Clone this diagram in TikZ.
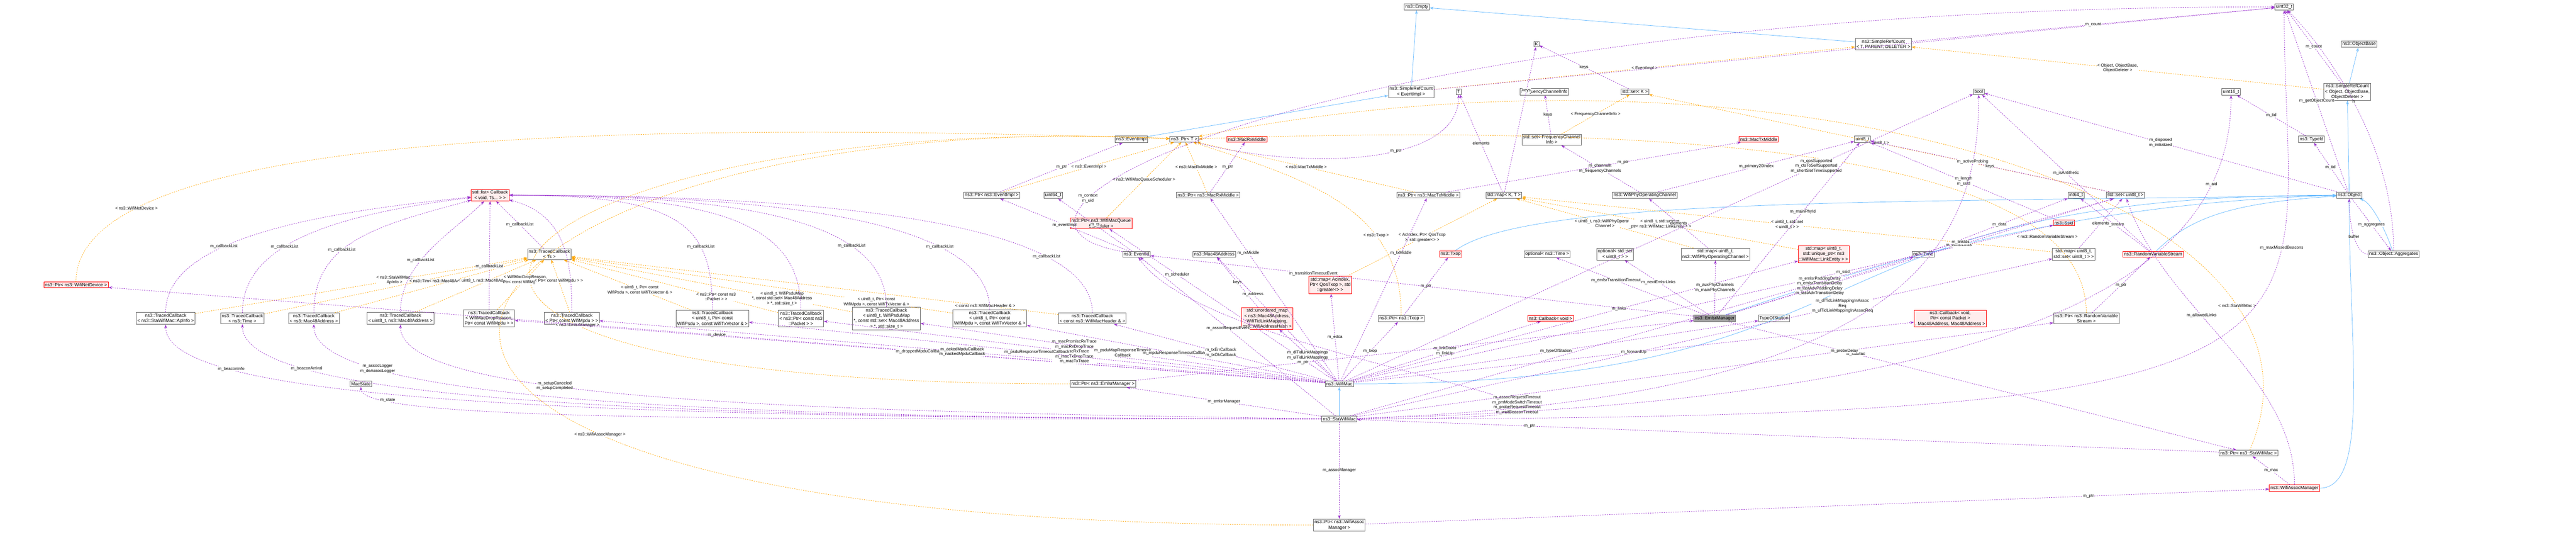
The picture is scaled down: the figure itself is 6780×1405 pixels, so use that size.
\documentclass[tikz,border=0pt]{standalone}
\usepackage{fontspec}
\setmainfont{Liberation Sans}
\usetikzlibrary{arrows.meta}
\definecolor{usecol}{HTML}{9A32CD}
\definecolor{tplcol}{HTML}{FFA500}
\definecolor{inhcol}{HTML}{63B8FF}
\tikzset{
  cls/.style={draw=gray!80!black,line width=1.2pt,fill=white,inner sep=3pt,align=center,font=\fontsize{12}{14}\selectfont},
  redcls/.style={cls,draw=red,fill=red!7},
  curcls/.style={cls,fill=gray!75},
  use/.style={usecol,dashed,line width=1pt,-{Stealth[length=10pt,width=7pt]}},
  tmpl/.style={tplcol,dashed,line width=1pt,-{Stealth[length=10pt,width=7pt]}},
  inh/.style={inhcol,line width=1pt,-{Stealth[length=10pt,width=7pt,open]}},
  lbl/.style={font=\fontsize{11}{13}\selectfont,align=center,text=black,fill=white,inner sep=1pt}
}
\begin{document}
\begin{tikzpicture}[x=1pt,y=-1pt]
\useasboundingbox (0,0) rectangle (6780,1405);

% top rows
\node[cls] (empty) at (3729,18) {ns3::Empty};
\node[cls] (u32) at (6012,18) {uint32\_t};
\node[cls] (K) at (4044,116) {K};
\node[cls] (srctpd) at (4957,116) {ns3::SimpleRefCount\\< T, PARENT, DELETER >};
\node[cls] (objbase) at (6209,116) {ns3::ObjectBase};
\node[cls] (srcev) at (3714,241) {ns3::SimpleRefCount\\< EventImpl >};
\node[cls] (T) at (3839,241) {T};
\node[cls] (fci) at (4065,241) {FrequencyChannelInfo};
\node[cls] (setk) at (4303,241) {std::set< K >};
\node[cls] (bool) at (5208,241) {bool};
\node[cls] (u16) at (5872,241) {uint16\_t};
\node[cls] (srcobj) at (6178,241) {ns3::SimpleRefCount\\< Object, ObjectBase,\\ ObjectDeleter >};
\node[cls] (evimpl) at (2978,366) {ns3::EventImpl};
\node[cls] (ptrt) at (3117,366) {ns3::Ptr< T >};
\node[redcls] (rxmid) at (3282,366) {ns3::MacRxMiddle};
\node[cls] (setfci) at (4084,367) {std::set< FrequencyChannel\\ Info >};
\node[redcls] (txmid) at (4629,366) {ns3::MacTxMiddle};
\node[cls] (u8) at (4902,366) {uint8\_t};
\node[cls] (typeid) at (6084,366) {ns3::TypeId};

% middle rows
\node[redcls] (list) at (1290,513) {std::list< Callback\\< void, Ts... > >};
\node[cls] (pevimpl) at (2610,513) {ns3::Ptr< ns3::EventImpl >};
\node[cls] (u64) at (2772,513) {uint64\_t};
\node[cls] (prxmid) at (3180,513) {ns3::Ptr< ns3::MacRxMiddle >};
\node[cls] (ptxmid) at (3759,513) {ns3::Ptr< ns3::MacTxMiddle >};
\node[cls] (mapkt) at (3958,513) {std::map< K, T >};
\node[cls] (wpoc) at (4329,513) {ns3::WifiPhyOperatingChannel};
\node[cls] (i64) at (5464,513) {int64\_t};
\node[cls] (setu8) at (5594,513) {std::set< uint8\_t >};
\node[cls] (object) at (6183,513) {ns3::Object};
\node[redcls] (psched) at (2898,587) {ns3::Ptr< ns3::WifiMacQueue\\ Scheduler >};
\node[redcls] (ssid) at (5432,586) {ns3::Ssid};
\node[cls] (tcts) at (1446,668) {ns3::TracedCallback\\< Ts >};
\node[cls] (evid) at (2991,668) {ns3::EventId};
\node[cls] (mac48) at (3196,668) {ns3::Mac48Address};
\node[redcls] (txop) at (3818,668) {ns3::Txop};
\node[cls] (optt) at (4072,668) {optional< ns3::Time >};
\node[cls] (optset) at (4251,668) {optional< std::set\\ < uint8\_t > >};
\node[cls] (mapoc) at (4515,668) {std::map< uint8\_t,\\ ns3::WifiPhyOperatingChannel >};
\node[redcls] (mapul) at (4800,668) {std::map< uint8\_t,\\ std::unique\_ptr< ns3\\ ::WifiMac::LinkEntity > >};
\node[cls] (time) at (5062,668) {ns3::Time};
\node[cls] (mapu8set) at (5458,668) {std::map< uint8\_t,\\ std::set< uint8\_t > >};
\node[redcls] (rvs) at (5667,668) {ns3::RandomVariableStream};
\node[cls] (aggr) at (6300,668) {ns3::Object::Aggregates};
\node[redcls] (pwnd) at (200,749) {ns3::Ptr< ns3::WifiNetDevice >};
\node[redcls] (mapac) at (3501,749) {std::map< AcIndex,\\ Ptr< QosTxop >, std\\ ::greater<> >};

% traced callbacks row
\node[cls] (tcap) at (436,837) {ns3::TracedCallback\\< ns3::StaWifiMac::ApInfo >};
\node[cls] (tctime) at (638,837) {ns3::TracedCallback\\< ns3::Time >};
\node[cls] (tcmac) at (826,837) {ns3::TracedCallback\\< ns3::Mac48Address >};
\node[cls] (tcu8mac) at (1054,837) {ns3::TracedCallback\\< uint8\_t, ns3::Mac48Address >};
\node[cls] (tcdrop) at (1287,837) {ns3::TracedCallback\\< WifiMacDropReason,\\ Ptr< const WifiMpdu > >};
\node[cls] (tcmpdu) at (1505,837) {ns3::TracedCallback\\< Ptr< const WifiMpdu > >};
\node[cls] (tcpsdu) at (1875,837) {ns3::TracedCallback\\< uint8\_t, Ptr< const\\ WifiPsdu >, const WifiTxVector \& >};
\node[cls] (tcpkt) at (2108,837) {ns3::TracedCallback\\< ns3::Ptr< const ns3\\ ::Packet > >};
\node[cls] (tcmap) at (2333,837) {ns3::TracedCallback\\< uint8\_t, WifiPsduMap\\ *, const std::set< Mac48Address\\ > *, std::size\_t >};
\node[cls] (tcmpdutx) at (2605,837) {ns3::TracedCallback\\< uint8\_t, Ptr< const\\ WifiMpdu >, const WifiTxVector \& >};
\node[cls] (tchdr) at (2875,837) {ns3::TracedCallback\\< const ns3::WifiMacHeader \& >};
\node[redcls] (umap) at (3335,837) {std::unordered\_map\\< ns3::Mac48Address,\\ WifiTidLinkMapping,\\ ns3::WifiAddressHash >};
\node[cls] (ptxop) at (3688,837) {ns3::Ptr< ns3::Txop >};
\node[redcls] (cbvoid) at (4081,837) {ns3::Callback< void >};
\node[curcls] (emlsr) at (4513,837) {ns3::EmlsrManager};
\node[cls] (tos) at (4669,837) {TypeOfStation};
\node[redcls] (cbfwd) at (5133,837) {ns3::Callback< void,\\ Ptr< const Packet >\\ , Mac48Address, Mac48Address >};
\node[cls] (prvs) at (5491,837) {ns3::Ptr< ns3::RandomVariable\\ Stream >};

% bottom rows
\node[cls] (macstate) at (950,1009) {MacState};
\node[cls] (pemlsr) at (2903,1009) {ns3::Ptr< ns3::EmlsrManager >};
\node[cls] (wifimac) at (3525,1009) {ns3::WifiMac};
\node[cls] (stamac) at (3525,1101) {ns3::StaWifiMac};
\node[cls] (pstamac) at (5918,1191) {ns3::Ptr< ns3::StaWifiMac >};
\node[redcls] (assoc) at (6039,1283) {ns3::WifiAssocManager};
\node[cls] (passoc) at (3525,1380) {ns3::Ptr< ns3::WifiAssoc\\ Manager >};

% inheritance
\draw[inh] (srcev) -- (empty);
\draw[inh] (srctpd) -- (empty);
\draw[inh] (evimpl) -- (srcev);
\draw[inh] (srcobj) -- (objbase);
\draw[inh] (object) -- (srcobj);
\draw[inh] (aggr) .. controls +(-20,-60) and +(60,20) .. (object);
\draw[inh] (wifimac) .. controls +(1500,0) and +(-1500,0) .. (object);
\draw[inh] (stamac) -- (wifimac);
\draw[inh] (txop) .. controls +(200,-150) and +(-1200,20) .. (object);
\draw[inh] (emlsr) .. controls +(300,-100) and +(-800,20) .. (object);
\draw[inh] (rvs) .. controls +(100,-100) and +(-300,20) .. (object);
\draw[inh] (assoc) .. controls +(200,0) and +(0,400) .. (object);

% templates
\draw[tmpl] (srcev) -- node[lbl]{< EventImpl >} (srctpd);
\draw[tmpl] (srcobj) -- node[lbl]{< Object, ObjectBase,\\ ObjectDeleter >} (srctpd);
\draw[tmpl] (setfci) -- node[lbl]{< FrequencyChannelInfo >} (setk);
\draw[tmpl] (setu8) -- node[lbl]{< uint8\_t >} (setk);
\draw[tmpl] (pevimpl) -- node[lbl]{< ns3::EventImpl >} (ptrt);
\draw[tmpl] (psched) -- node[lbl]{< ns3::WifiMacQueueScheduler >} (ptrt);
\draw[tmpl] (prxmid) -- node[lbl]{< ns3::MacRxMiddle >} (ptrt);
\draw[tmpl] (ptxmid) -- node[lbl]{< ns3::MacTxMiddle >} (ptrt);
\draw[tmpl] (ptxop) .. controls +(0,-300) and +(300,100) .. node[lbl,pos=0.3]{< ns3::Txop >} (ptrt);
\draw[tmpl] (pwnd) .. controls +(0,-400) and +(-1500,-50) .. node[lbl,pos=0.2]{< ns3::WifiNetDevice >} (ptrt);
\draw[tmpl] (pemlsr) .. controls +(-2400,0) and +(-1800,-80) .. node[lbl,pos=0.3]{< ns3::EmlsrManager >} (ptrt);
\draw[tmpl] (passoc) .. controls +(-3300,0) and +(-2000,-100) .. node[lbl,pos=0.3]{< ns3::WifiAssocManager >} (ptrt);
\draw[tmpl] (pstamac) .. controls +(300,-700) and +(1500,-300) .. node[lbl,pos=0.2]{< ns3::StaWifiMac >} (ptrt);
\draw[tmpl] (prvs) .. controls +(0,-400) and +(1500,-50) .. node[lbl,pos=0.2]{< ns3::RandomVariableStream >} (ptrt);
\draw[tmpl] (mapac) -- node[lbl]{< AcIndex, Ptr< QosTxop\\ >, std::greater<> >} (mapkt);
\draw[tmpl] (mapoc) -- node[lbl]{< uint8\_t, ns3::WifiPhyOperating\\ Channel >} (mapkt);
\draw[tmpl] (mapul) -- node[lbl]{< uint8\_t, std::unique\\ \_ptr< ns3::WifiMac::LinkEntity > >} (mapkt);
\draw[tmpl] (mapu8set) -- node[lbl]{< uint8\_t, std::set\\ < uint8\_t > >} (mapkt);
\draw[tmpl] (tcap) -- node[lbl,pos=0.6]{< ns3::StaWifiMac::\\ ApInfo >} (tcts);
\draw[tmpl] (tctime) -- node[lbl,pos=0.6]{< ns3::Time >} (tcts);
\draw[tmpl] (tcmac) -- node[lbl,pos=0.6]{< ns3::Mac48Address >} (tcts);
\draw[tmpl] (tcu8mac) -- node[lbl,pos=0.6]{< uint8\_t, ns3::Mac48Address >} (tcts);
\draw[tmpl] (tcdrop) -- node[lbl,pos=0.6]{< WifiMacDropReason,\\ Ptr< const WifiMpdu > >} (tcts);
\draw[tmpl] (tcmpdu) -- node[lbl,pos=0.6]{< Ptr< const WifiMpdu > >} (tcts);
\draw[tmpl] (tcpsdu) -- node[lbl,pos=0.4]{< uint8\_t, Ptr< const\\ WifiPsdu >, const WifiTxVector \& >} (tcts);
\draw[tmpl] (tcpkt) -- node[lbl,pos=0.3]{< ns3::Ptr< const ns3\\ ::Packet > >} (tcts);
\draw[tmpl] (tcmap) -- node[lbl,pos=0.25]{< uint8\_t, WifiPsduMap\\ *, const std::set< Mac48Address\\ > *, std::size\_t >} (tcts);
\draw[tmpl] (tcmpdutx) -- node[lbl,pos=0.2]{< uint8\_t, Ptr< const\\ WifiMpdu >, const WifiTxVector \& >} (tcts);
\draw[tmpl] (tchdr) -- node[lbl,pos=0.15]{< const ns3::WifiMacHeader \& >} (tcts);

% usage
\draw[use] (srcev) -- (u32);
\draw[use] (srctpd) -- node[lbl]{m\_count} (u32);
\draw[use] (srcobj) -- node[lbl]{m\_count} (u32);
\draw[use] (object) -- node[lbl]{m\_getObjectCount} (u32);
\draw[use] (aggr) .. controls +(0,-300) and +(100,100) .. node[lbl]{n} (u32);
\draw[use] (object) -- node[lbl]{m\_tid} (typeid);
\draw[use] (typeid) -- node[lbl]{m\_tid} (u16);
\draw[use] (object) -- node[lbl]{m\_disposed\\ m\_initialized} (bool);
\draw[use] (object) -- node[lbl]{m\_aggregates} (aggr);
\draw[use] (aggr) .. controls +(-100,0) and +(0,80) .. node[lbl]{buffer} (object);
\draw[use] (setk) -- node[lbl]{keys} (K);
\draw[use] (mapkt) -- node[lbl,pos=0.7]{keys} (K);
\draw[use] (mapkt) -- node[lbl]{elements} (T);
\draw[use] (ptrt) .. controls +(300,80) and +(0,200) .. node[lbl,pos=0.6]{m\_ptr} (T);
\draw[use] (setfci) -- node[lbl]{keys} (fci);
\draw[use] (setu8) -- node[lbl]{keys} (u8);
\draw[use] (wpoc) -- node[lbl]{m\_channelIt\\ m\_frequencyChannels} (setfci);
\draw[use] (wpoc) -- node[lbl]{m\_primary20Index} (u8);
\draw[use] (pevimpl) -- node[lbl]{m\_ptr} (evimpl);
\draw[use] (prxmid) -- node[lbl]{m\_ptr} (rxmid);
\draw[use] (ptxmid) -- node[lbl,pos=0.6]{m\_ptr} (txmid);
\draw[use] (evid) -- node[lbl]{m\_eventImpl} (pevimpl);
\draw[use] (evid) -- node[lbl]{m\_ts} (u64);
\draw[use] (evid) .. controls +(-550,-100) and +(-2500,0) .. node[lbl,pos=0.25]{m\_context\\ m\_uid} (u32);
\draw[use] (time) -- node[lbl]{m\_data} (i64);
\draw[use] (ssid) -- node[lbl]{m\_length\\ m\_ssid} (u8);
\draw[use] (rvs) -- node[lbl]{m\_stream} (i64);
\draw[use] (rvs) -- node[lbl]{m\_isAntithetic} (bool);
\draw[use] (mapu8set) -- node[lbl]{elements} (setu8);
\draw[use] (mapoc) -- node[lbl]{elements} (wpoc);
\draw[use] (umap) -- node[lbl]{keys} (mac48);
\draw[use] (ptxop) -- node[lbl]{m\_ptr} (txop);
\draw[use] (prvs) -- node[lbl]{m\_ptr} (rvs);
\draw[use] (tcap) .. controls +(0,-200) and +(-500,50) .. node[lbl,pos=0.4]{m\_callbackList} (list);
\draw[use] (tctime) .. controls +(0,-200) and +(-400,50) .. node[lbl,pos=0.4]{m\_callbackList} (list);
\draw[use] (tcmac) .. controls +(0,-200) and +(-300,80) .. node[lbl,pos=0.4]{m\_callbackList} (list);
\draw[use] (tcu8mac) .. controls +(0,-150) and +(-100,100) .. node[lbl,pos=0.4]{m\_callbackList} (list);
\draw[use] (tcdrop) -- node[lbl,pos=0.4]{m\_callbackList} (list);
\draw[use] (tcts) -- node[lbl]{m\_callbackList} (list);
\draw[use] (tcmpdu) .. controls +(0,-150) and +(200,50) .. (list);
\draw[use] (tcpsdu) .. controls +(0,-250) and +(500,0) .. node[lbl,pos=0.3]{m\_callbackList} (list);
\draw[use] (tcpkt) .. controls +(0,-250) and +(600,0) .. (list);
\draw[use] (tcmap) .. controls +(0,-250) and +(700,0) .. node[lbl,pos=0.3]{m\_callbackList} (list);
\draw[use] (tcmpdutx) .. controls +(0,-250) and +(800,0) .. node[lbl,pos=0.3]{m\_callbackList} (list);
\draw[use] (tchdr) .. controls +(0,-250) and +(900,0) .. node[lbl,pos=0.25]{m\_callbackList} (list);

% wifi mac members
\draw[use] (wifimac) -- node[lbl]{m\_device} (pwnd);
\draw[use] (wifimac) -- node[lbl]{m\_droppedMpduCallback} (tcdrop);
\draw[use] (wifimac) -- node[lbl]{m\_ackedMpduCallback\\ m\_nackedMpduCallback} (tcmpdu);
\draw[use] (wifimac) -- node[lbl]{m\_macPromiscRxTrace\\ m\_macRxDropTrace\\ m\_macRxTrace\\ m\_macTxDropTrace\\ m\_macTxTrace} (tcpkt);
\draw[use] (wifimac) -- node[lbl]{m\_psduMapResponseTimeout\\ Callback} (tcmap);
\draw[use] (wifimac) -- node[lbl]{m\_psduResponseTimeoutCallback} (tcpsdu);
\draw[use] (wifimac) -- node[lbl]{m\_mpduResponseTimeoutCallback} (tcmpdutx);
\draw[use] (wifimac) -- node[lbl]{m\_txErrCallback\\ m\_txOkCallback} (tchdr);
\draw[use] (wifimac) -- node[lbl,pos=0.7]{m\_scheduler} (psched);
\draw[use] (wifimac) -- node[lbl,pos=0.7]{m\_address} (mac48);
\draw[use] (wifimac) -- node[lbl]{m\_dlTidLinkMappings\\ m\_ulTidLinkMappings} (umap);
\draw[use] (wifimac) -- node[lbl]{m\_edca} (mapac);
\draw[use] (wifimac) -- node[lbl]{m\_txop} (ptxop);
\draw[use] (wifimac) -- node[lbl,pos=0.7]{m\_rxMiddle} (prxmid);
\draw[use] (wifimac) -- node[lbl,pos=0.7]{m\_txMiddle} (ptxmid);
\draw[use] (wifimac) -- node[lbl]{m\_linkDown\\ m\_linkUp} (cbvoid);
\draw[use] (wifimac) -- node[lbl]{m\_typeOfStation} (tos);
\draw[use] (wifimac) -- node[lbl,pos=0.6]{m\_links} (mapul);
\draw[use] (wifimac) -- node[lbl]{m\_forwardUp} (cbfwd);
\draw[use] (wifimac) -- node[lbl,pos=0.7]{m\_ssid} (ssid);
\draw[use] (wifimac) -- node[lbl,pos=0.75]{m\_qosSupported\\ m\_ctsToSelfSupported\\ m\_shortSlotTimeSupported} (bool);

% emlsr manager members
\draw[use] (pemlsr) -- node[lbl,pos=0.3]{m\_ptr} (emlsr);
\draw[use] (emlsr) -- node[lbl]{m\_auxPhyChannels\\ m\_mainPhyChannels} (mapoc);
\draw[use] (emlsr) -- node[lbl]{m\_emlsrPaddingDelay\\ m\_emlsrTransitionDelay\\ m\_lastAdvPaddingDelay\\ m\_lastAdvTransitionDelay} (time);
\draw[use] (emlsr) -- node[lbl,pos=0.6]{m\_emlsrLinks} (setu8);
\draw[use] (emlsr) -- node[lbl,pos=0.6]{m\_mainPhyId} (u8);
\draw[use] (emlsr) -- node[lbl,pos=0.7]{m\_transitionTimeoutEvent} (evid);
\draw[use] (emlsr) -- node[lbl,pos=0.6]{m\_nextEmlsrLinks} (optset);
\draw[use] (emlsr) -- node[lbl,pos=0.6]{m\_emlsrTransitionTimeout} (optt);
\draw[use] (emlsr) -- node[lbl,pos=0.25]{m\_staMac} (pstamac);

% sta wifi mac members
\draw[use] (stamac) -- node[lbl]{m\_emlsrManager} (pemlsr);
\draw[use] (stamac) -- node[lbl]{m\_assocManager} (passoc);
\draw[use] (stamac) .. controls +(-1500,0) and +(0,100) .. node[lbl,pos=0.85]{m\_state} (macstate);
\draw[use] (stamac) .. controls +(-2200,0) and +(0,200) .. node[lbl,pos=0.75]{m\_beaconInfo} (tcap);
\draw[use] (stamac) .. controls +(-2000,0) and +(0,200) .. node[lbl,pos=0.75]{m\_beaconArrival} (tctime);
\draw[use] (stamac) .. controls +(-1800,0) and +(0,200) .. node[lbl,pos=0.75]{m\_assocLogger\\ m\_deAssocLogger} (tcmac);
\draw[use] (stamac) .. controls +(-1600,-20) and +(0,200) .. node[lbl,pos=0.6]{m\_setupCanceled\\ m\_setupCompleted} (tcu8mac);
\draw[use] (stamac) -- node[lbl,pos=0.55]{m\_assocRequestEvent} (evid);
\draw[use] (stamac) .. controls +(1200,0) and +(200,300) .. node[lbl,pos=0.3]{m\_assocRequestTimeout\\ m\_pmModeSwitchTimeout\\ m\_probeRequestTimeout\\ m\_waitBeaconTimeout} (evid);
\draw[use] (stamac) -- node[lbl,pos=0.7]{m\_probeDelay} (prvs);
\draw[use] (stamac) -- node[lbl,pos=0.7]{m\_dlTidLinkMappingInAssoc\\ Req\\ m\_ulTidLinkMappingInAssocReq} (mapu8set);
\draw[use] (stamac) -- node[lbl,pos=0.8]{m\_linkIds} (setu8);
\draw[use] (stamac) .. controls +(2000,-50) and +(0,400) .. node[lbl,pos=0.8]{m\_aid} (u16);
\draw[use] (stamac) .. controls +(1500,-50) and +(0,400) .. node[lbl,pos=0.85]{m\_activeProbing} (bool);
\draw[use] (stamac) .. controls +(2800,0) and +(0,900) .. node[lbl,pos=0.7]{m\_maxMissedBeacons} (u32);
\draw[use] (pstamac) -- node[lbl,pos=0.8]{m\_ptr} (stamac);

% assoc manager members
\draw[use] (passoc) -- node[lbl,pos=0.8]{m\_ptr} (assoc);
\draw[use] (assoc) -- node[lbl]{m\_mac} (pstamac);
\draw[use] (assoc) .. controls +(0,-300) and +(100,300) .. node[lbl,pos=0.6]{m\_allowedLinks} (setu8);
\end{tikzpicture}
\end{document}
